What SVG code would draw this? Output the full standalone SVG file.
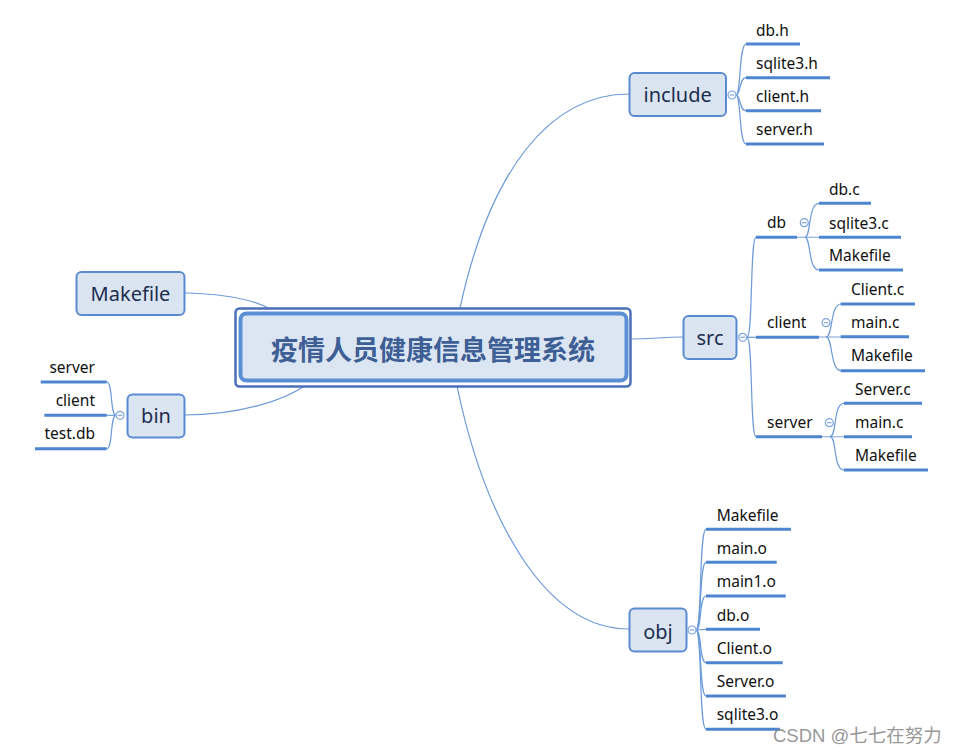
<svg xmlns="http://www.w3.org/2000/svg" width="957" height="754" viewBox="0 0 957 754">
<style>
.lbl{font-family:"Noto Sans","Liberation Sans",sans-serif;font-size:15.5px;fill:#111}
.lblr{font-family:"Noto Sans","Liberation Sans",sans-serif;font-size:15.5px;fill:#111;text-anchor:end}
.nt{font-family:"Noto Sans","Liberation Sans",sans-serif;font-size:20px;fill:#1b2d4f;text-anchor:middle}
.box{fill:#dbe5f2;stroke:#5a8ad0;stroke-width:2}
.ul{stroke:#4d85d0;stroke-width:3;fill:none}
.ln{stroke:#6b9ad9;stroke-width:1.2;fill:none}
.thin{stroke:#8fb3e3;stroke-width:1.2;fill:none}
.col{fill:#fff;stroke:#7ea6dd;stroke-width:1.2}
.mn{stroke:#7ea6dd;stroke-width:1.2}
</style>
<defs>
<g id="collapse"><circle class="col" cx="0" cy="0" r="4"/><line class="mn" x1="-2.3" y1="0" x2="2.3" y2="0"/></g>
</defs>
<rect width="957" height="754" fill="#fff"/>

<g id="connectors">
<path class="ln" d="M460,308 C490,170 550,94 629,94"/>
<path class="ln" d="M631,339 C655,339 660,337 683,337"/>
<path class="ln" d="M457,386 C485,520 545,629 629,629"/>
<path class="ln" d="M184,293 C230,294 255,300 272,310"/>
<path class="ln" d="M184,415 C240,415 285,400 306,385"/>
<path class="ln" d="M736,95 C741,95 739,44 746,44"/>
<path class="ln" d="M736,95 C741,95 739,77.7 746,77.7"/>
<path class="ln" d="M736,95 C741,95 739,110.7 746,110.7"/>
<path class="ln" d="M736,95 C741,95 739,144 746,144"/>
<path class="ln" d="M747,337.3 C753,337.3 750,237.3 756,237.3"/>
<path class="ln" d="M747,337.3 L756,337.3"/>
<path class="ln" d="M747,337.3 C753,337.3 750,436.7 756,436.7"/>
<path class="thin" d="M797,237.3 L819,237.3"/>
<path class="ln" d="M805,237.3 C811,237.3 808,203.3 819,203.3"/>
<path class="ln" d="M805,237.3 C811,237.3 808,270 819,270"/>
<path class="thin" d="M819,337 L841,337"/>
<path class="ln" d="M826,337 C833,337 830,304 841,304"/>
<path class="ln" d="M826,337 C833,337 830,370.7 841,370.7"/>
<path class="thin" d="M822,436.7 L844,436.7"/>
<path class="ln" d="M830,436.7 C837,436.7 833,403.3 844,403.3"/>
<path class="ln" d="M830,436.7 C837,436.7 833,470 844,470"/>
<path class="ln" d="M696,630 C702,630 699,529.3 706,529.3"/>
<path class="ln" d="M696,630 C702,630 699,562.3 706,562.3"/>
<path class="ln" d="M696,630 C702,630 699,596 706,596"/>
<path class="ln" d="M696,630 L706,629.3"/>
<path class="ln" d="M696,630 C702,630 699,662.7 706,662.7"/>
<path class="ln" d="M696,630 C702,630 699,696 706,696"/>
<path class="ln" d="M696,630 C702,630 699,729.3 706,729.3"/>
<path class="ln" d="M116,415.3 C110,415.3 113,382 106.7,382"/>
<path class="ln" d="M116,415.3 L106.7,415.3"/>
<path class="ln" d="M116,415.3 C110,415.3 113,448.7 106.7,448.7"/>
</g>

<g id="central">
<rect x="235.5" y="308.5" width="395" height="78" rx="4" fill="#fff" stroke="#4a6fb8" stroke-width="2.5"/>
<rect x="240.5" y="313.5" width="386" height="67" rx="6" fill="#dce6f3" stroke="#5b8fd5" stroke-width="4"/>
<text x="433" y="360" text-anchor="middle" font-family="'Noto Sans CJK SC',sans-serif" font-weight="bold" font-size="27" fill="#3d5f95">疫情人员健康信息管理系统</text>
</g>

<g id="include">
<rect class="box" x="629.5" y="73" width="96.5" height="43" rx="5"/>
<text class="nt" x="677.7" y="102">include</text>
<use href="#collapse" x="732" y="95"/>
</g>
<g id="inc-dbh"><text class="lbl" x="756" y="36">db.h</text><line class="ul" x1="746" y1="44" x2="800" y2="44"/></g>
<g id="inc-sqlite3h"><text class="lbl" x="756" y="69">sqlite3.h</text><line class="ul" x1="746" y1="77.7" x2="830" y2="77.7"/></g>
<g id="inc-clienth"><text class="lbl" x="756" y="102">client.h</text><line class="ul" x1="746" y1="110.7" x2="821" y2="110.7"/></g>
<g id="inc-serverh"><text class="lbl" x="756" y="135">server.h</text><line class="ul" x1="746" y1="144" x2="824" y2="144"/></g>

<g id="src">
<rect class="box" x="683.5" y="316" width="53" height="43" rx="5"/>
<text class="nt" x="710" y="345">src</text>
<use href="#collapse" x="742.7" y="337.3"/>
</g>
<g id="src-db"><text class="lbl" x="767" y="227.5">db</text><line class="ul" x1="756" y1="237.3" x2="797" y2="237.3"/><use href="#collapse" x="804.3" y="222.7"/></g>
<g id="db-dbc"><text class="lbl" x="829" y="195">db.c</text><line class="ul" x1="819" y1="203.3" x2="871" y2="203.3"/></g>
<g id="db-sqlite3c"><text class="lbl" x="829" y="228.5">sqlite3.c</text><line class="ul" x1="819" y1="237.3" x2="901" y2="237.3"/></g>
<g id="db-makefile"><text class="lbl" x="829" y="261">Makefile</text><line class="ul" x1="819" y1="270" x2="903" y2="270"/></g>

<g id="src-client"><text class="lbl" x="767" y="327.5">client</text><line class="ul" x1="756" y1="337.3" x2="819" y2="337.3"/><use href="#collapse" x="826" y="322.7"/></g>
<g id="client-clientc"><text class="lbl" x="851" y="294.5">Client.c</text><line class="ul" x1="840.7" y1="304" x2="915" y2="304"/></g>
<g id="client-mainc"><text class="lbl" x="851" y="327.5">main.c</text><line class="ul" x1="840.7" y1="336.7" x2="909" y2="336.7"/></g>
<g id="client-makefile"><text class="lbl" x="851" y="361">Makefile</text><line class="ul" x1="840.7" y1="370.7" x2="925" y2="370.7"/></g>

<g id="src-server"><text class="lbl" x="767" y="427.5">server</text><line class="ul" x1="756" y1="436.7" x2="822" y2="436.7"/><use href="#collapse" x="829.3" y="422.7"/></g>
<g id="server-serverc"><text class="lbl" x="855" y="394.5">Server.c</text><line class="ul" x1="844" y1="403.3" x2="922" y2="403.3"/></g>
<g id="server-mainc"><text class="lbl" x="855" y="427.5">main.c</text><line class="ul" x1="844" y1="436.7" x2="912" y2="436.7"/></g>
<g id="server-makefile"><text class="lbl" x="855" y="461">Makefile</text><line class="ul" x1="844" y1="470" x2="928" y2="470"/></g>

<g id="obj">
<rect class="box" x="629.5" y="608.5" width="57" height="43" rx="5"/>
<text class="nt" x="658" y="638.5">obj</text>
<use href="#collapse" x="692" y="630"/>
</g>
<g id="obj-makefile"><text class="lbl" x="716.7" y="520.7">Makefile</text><line class="ul" x1="706" y1="529.3" x2="791" y2="529.3"/></g>
<g id="obj-maino"><text class="lbl" x="716.7" y="554">main.o</text><line class="ul" x1="706" y1="562.3" x2="776.7" y2="562.3"/></g>
<g id="obj-main1o"><text class="lbl" x="716.7" y="587.3">main1.o</text><line class="ul" x1="706" y1="596" x2="785.7" y2="596"/></g>
<g id="obj-dbo"><text class="lbl" x="716.7" y="620.7">db.o</text><line class="ul" x1="706" y1="629.3" x2="760" y2="629.3"/></g>
<g id="obj-cliento"><text class="lbl" x="716.7" y="653.5">Client.o</text><line class="ul" x1="706" y1="662.7" x2="782.7" y2="662.7"/></g>
<g id="obj-servero"><text class="lbl" x="716.7" y="686.7">Server.o</text><line class="ul" x1="706" y1="696" x2="786" y2="696"/></g>
<g id="obj-sqlite3o"><text class="lbl" x="716.7" y="720">sqlite3.o</text><line class="ul" x1="706" y1="729.3" x2="780" y2="729.3"/></g>

<g id="makefile">
<rect class="box" x="76.5" y="272" width="108" height="43" rx="5"/>
<text class="nt" x="130.5" y="301">Makefile</text>
</g>

<g id="bin">
<rect class="box" x="127.5" y="394.5" width="57" height="43" rx="5"/>
<text class="nt" x="156" y="423">bin</text>
<use href="#collapse" x="120" y="415.3"/>
</g>
<g id="bin-server"><text class="lblr" x="95" y="373.3">server</text><line class="ul" x1="40.7" y1="382" x2="106.7" y2="382"/></g>
<g id="bin-client"><text class="lblr" x="95" y="406">client</text><line class="ul" x1="44.3" y1="415.3" x2="106.7" y2="415.3"/></g>
<g id="bin-testdb"><text class="lblr" x="95" y="439.3">test.db</text><line class="ul" x1="35" y1="448.7" x2="106.7" y2="448.7"/></g>

<text x="773" y="742.3" font-family="'Liberation Sans','Noto Sans CJK SC',sans-serif" font-size="18.5" fill="#8a8a8a" fill-opacity="0.9">CSDN @七七在努力</text>
</svg>
